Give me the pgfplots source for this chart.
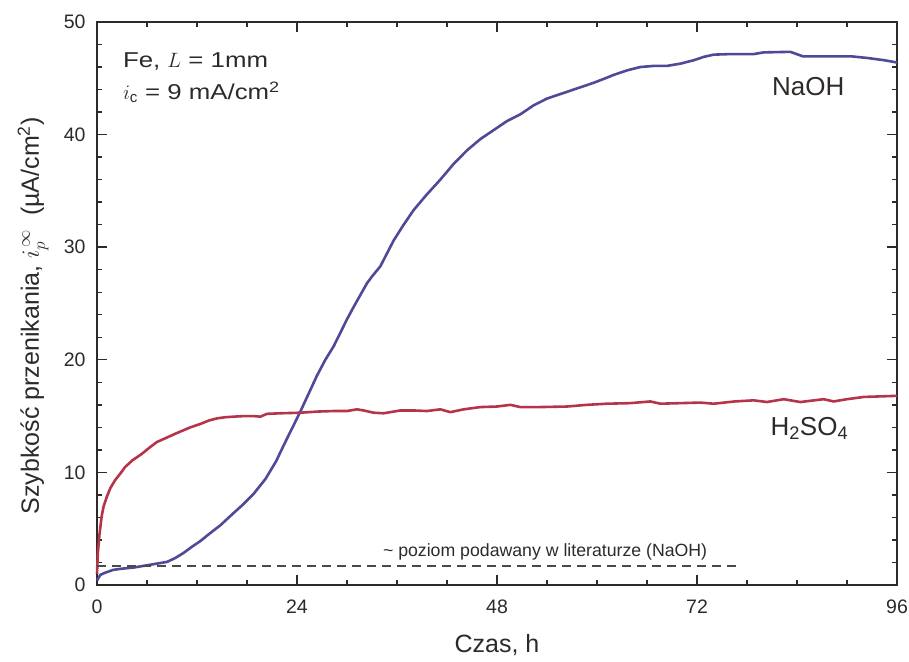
\documentclass[border=0pt]{standalone}
\usepackage{pgfplots}
\pgfplotsset{compat=1.18}
\usepackage{fontspec}
\setmainfont{Liberation Sans}
\newfontfamily\widefont[FakeStretch=1.2]{Liberation Sans}
\definecolor{naoh}{RGB}{78,74,152}
\definecolor{hso}{RGB}{182,52,74}
\definecolor{ink}{RGB}{45,42,40}
\begin{document}
\begin{tikzpicture}
\begin{axis}[
  width=800pt, height=563pt, scale only axis,
  xmin=0, xmax=96, ymin=0, ymax=50,
  xtick={0,24,48,72,96}, ytick={0,10,20,30,40,50},
  minor x tick num=3, minor y tick num=4,
  tick align=inside,
  major tick length=10pt, minor tick length=5pt,
  axis line style={ink, line width=1.6pt},
  every tick/.style={ink, line width=1.4pt},
  /pgf/number format/assume math mode=true,
  ticklabel style={font=\fontsize{19.5}{22}\selectfont, text=ink},
  xticklabel style={yshift=-11pt},
  yticklabel style={xshift=-8pt},
  label style={font=\fontsize{25}{30}\selectfont, text=ink},
  xlabel={Czas, h},
  ylabel={Szybkość przenikania, $i_{p}^{\,\infty}$\ \ (µA/cm\textsuperscript{2})},
  xlabel style={at={(axis description cs:0.5,-0.107)}, anchor=center},
  ylabel style={at={(axis description cs:-0.080,0.478)}, anchor=center},
  clip=false,
]
\addplot[naoh, line width=2.6pt] coordinates {
(0,0.4) (0.4,0.9) (1,1.1) (2,1.35) (3,1.45) (4.4,1.55) (6.4,1.8) (8.4,2.05)
(9.4,2.4) (10.4,2.85) (11.4,3.4) (12.4,3.9) (13.4,4.5) (14.8,5.3) (16.4,6.4) (17.6,7.2)
(18.8,8.1) (20.2,9.4) (21.5,11.0) (22.4,12.4) (23.4,13.9) (24.4,15.4)
(25.4,17.0) (26.4,18.6) (27.4,20.0) (28.4,21.2) (30.0,23.6) (30.8,24.7)
(32.4,26.8) (33.0,27.4) (34.0,28.3) (35.6,30.6) (36.8,32.0) (38.0,33.3)
(39.6,34.7) (41.2,36.0) (42.8,37.4) (44.4,38.6) (46.0,39.6) (47.6,40.4)
(49.2,41.2) (50.8,41.8) (52.4,42.6) (54.0,43.2) (55.2,43.5) (56.4,43.8)
(58.0,44.2) (59.6,44.6) (61.0,45.0) (62.0,45.3) (63.6,45.7) (65.2,46.0)
(66.8,46.1) (68.4,46.1) (70.0,46.3) (71.6,46.6) (72.8,46.9) (74.0,47.1)
(76.0,47.15) (78.8,47.15) (80.0,47.3) (83.2,47.35) (84.7,46.95) (87.0,46.95)
(90.5,46.95) (92.5,46.8) (94.5,46.6) (96,46.4)
};
\addplot[hso, line width=2.6pt] coordinates {
(0,1.0) (0.1,2.8) (0.3,4.5) (0.56,6.1) (0.8,7.0) (1.16,7.8) (1.6,8.6)
(2.16,9.3) (2.8,9.9) (3.4,10.5) (4.3,11.1) (5.3,11.6) (6.3,12.2) (7.2,12.7)
(8.4,13.1) (9.6,13.5) (11.2,14.0) (12.4,14.3) (13.4,14.6) (14.4,14.8)
(15.4,14.9) (16.4,14.95) (17.6,15.0) (18.8,15.0) (19.6,14.95) (20.4,15.2)
(22,15.25) (24.4,15.3) (26.4,15.4) (28.4,15.45) (30,15.45) (31.2,15.6)
(32,15.5) (33.2,15.3) (34.4,15.25) (36.4,15.5) (38,15.5) (39.6,15.45)
(41.2,15.6) (42.4,15.35) (44,15.6) (46,15.8) (48,15.85) (49.6,16.0)
(50.8,15.8) (53,15.8) (56.4,15.85) (58.8,16.0) (61.2,16.1) (64,16.15)
(66.4,16.3) (67.6,16.1) (70,16.15) (72.4,16.2) (74,16.1) (76.5,16.3)
(78.8,16.4) (80.4,16.25) (82.4,16.5) (84.4,16.25) (87.2,16.5) (88.4,16.3)
(90,16.5) (92,16.7) (94,16.75) (96,16.8)
};
\addplot[ink!85, line width=1.8pt, dash pattern=on 9pt off 6pt] coordinates {(0,1.7) (77.2,1.7)};
\node[anchor=base west, text=ink, font=\widefont\fontsize{21.5}{25}\selectfont, inner sep=0pt] at (axis cs:3.1,46.0) {Fe, $L$ = 1mm};
\node[anchor=base west, text=ink, font=\widefont\fontsize{21.5}{25}\selectfont, inner sep=0pt] at (axis cs:3.1,43.1) {$i_{\mathrm{c}}$ = 9 mA/cm\textsuperscript{2}};
\node[anchor=base west, text=ink, font=\fontsize{26}{30}\selectfont, inner sep=0pt] at (axis cs:81.0,43.5) {NaOH};
\node[anchor=base west, text=ink, font=\fontsize{26}{30}\selectfont, inner sep=0pt] at (axis cs:80.8,13.3) {H\textsubscript{2}SO\textsubscript{4}};
\node[anchor=base west, text=ink, font=\fontsize{17.7}{20}\selectfont, inner sep=0pt] at (axis cs:34.3,2.5) {\textasciitilde{} poziom podawany w literaturze (NaOH)};
\end{axis}
\pgfresetboundingbox
\path ([shift={(-97pt,-77pt)}]current axis.south west) rectangle ([shift={(12pt,22pt)}]current axis.north east);
\end{tikzpicture}
\end{document}
